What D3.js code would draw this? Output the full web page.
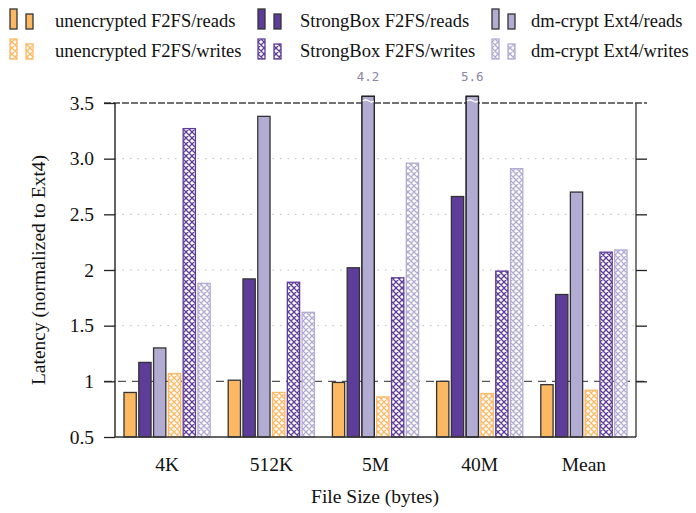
<!DOCTYPE html>
<html><head><meta charset="utf-8">
<script src="https://cdn.jsdelivr.net/npm/d3@7"></script>
<style>body{margin:0;background:#fff} svg{display:block}</style></head>
<body>
<script>
const categories=["4K","512K","5M","40M","Mean"];
const seriesNames=["unencrypted F2FS/reads","StrongBox F2FS/reads","dm-crypt Ext4/reads","unencrypted F2FS/writes","StrongBox F2FS/writes","dm-crypt Ext4/writes"];
const unencReads=[0.90,1.01,0.99,1.00,0.97];
const strongboxReads=[1.17,1.92,2.02,2.66,1.78];
const dmcryptReads=[1.30,3.38,4.2,5.6,2.70];
const unencWrites=[1.07,0.90,0.86,0.89,0.92];
const strongboxWrites=[3.27,1.89,1.93,1.99,2.16];
const dmcryptWrites=[1.88,1.62,2.96,2.91,2.18];
const yTickValues=[0.5,1,1.5,2,2.5,3,3.5];
const yTickLabels=["0.5","1","1.5","2","2.5","3.0","3.5"];
const palette=["#fdb863","#5e3c99","#b2abd2"];

const seriesValues=[unencReads,strongboxReads,dmcryptReads,unencWrites,strongboxWrites,dmcryptWrites];
const series=seriesNames.map((n,i)=>({name:n,values:seriesValues[i],color:palette[i%3],hatched:i>=3,key:"s"+i}));

const W=696,H=513;
const L=115,R=636,T=103,B=437;
const serif="'Liberation Serif','DejaVu Serif',serif";
const svg=d3.select("body").append("svg").attr("width",W).attr("height",H);
const defs=svg.append("defs");
palette.forEach((c,i)=>{
  const p=defs.append("pattern").attr("id","hatch"+i).attr("patternUnits","userSpaceOnUse")
    .attr("width",6).attr("height",6);
  p.append("rect").attr("width",6).attr("height",6).attr("fill","#fff");
  p.append("path").attr("d","M0,0L6,6M6,0L0,6M-1,5L1,7M5,-1L7,1").attr("stroke",c).attr("stroke-width",1.3).attr("fill","none");
});

const y=d3.scaleLinear().domain([0.5,3.5]).range([B,T]);
const x0=d3.scaleBand().domain(categories).range([L,R]).padding(0);
const x1=d3.scaleBand().domain(series.map(s=>s.key)).range([9,x0.bandwidth()-9]).paddingInner(0.17);
const yShownMax=3.56;

// gridlines
const g=svg.append("g");
g.selectAll("line.grid").data(yTickValues.filter(v=>v>1&&v<3.5)).join("line")
  .attr("x1",L).attr("x2",R).attr("y1",d=>y(d)).attr("y2",d=>y(d))
  .attr("stroke","#bbb").attr("stroke-width",1).attr("stroke-dasharray","1.5,6");
// ref line at 1
svg.append("line").attr("x1",104).attr("x2",647).attr("y1",y(1)).attr("y2",y(1))
  .attr("stroke","#555").attr("stroke-width",1.3).attr("stroke-dasharray","8,6");

// bars
const bars=svg.append("g");
series.forEach((s,si)=>{
  bars.selectAll("rect."+s.key).data(s.values.map((v,ci)=>({v,c:categories[ci]}))).join("rect")
    .attr("x",d=>x0(d.c)+x1(s.key)).attr("width",x1.bandwidth())
    .attr("y",d=>y(Math.min(d.v,yShownMax))).attr("height",d=>B-y(Math.min(d.v,yShownMax)))
    .attr("fill",s.hatched?`url(#hatch${si%3})`:s.color)
    .attr("stroke",s.hatched?s.color:"#333").attr("stroke-width",1.3);
});
// top dashed border line
svg.append("line").attr("x1",104).attr("x2",647).attr("y1",T).attr("y2",T)
  .attr("stroke","#444").attr("stroke-width",1.3).attr("stroke-dasharray","7,2");
// redraw clipped bars on top of border and add breaks and labels
series.forEach((s,si)=>{
  s.values.forEach((v,ci)=>{
    if(v>3.5){
      const bx=x0(categories[ci])+x1(s.key), bw=x1.bandwidth();
      svg.append("rect").attr("x",bx).attr("width",bw).attr("y",y(yShownMax)).attr("height",B-y(yShownMax))
        .attr("fill",s.color).attr("stroke","#222").attr("stroke-width",1.3);
      const yy=y(3.5)-2;
      svg.append("path").attr("d",`M${bx+0.7},${yy}q${bw/4},-2 ${bw/2},0t${bw/2-1.4},0`)
        .attr("stroke","#fff").attr("stroke-width",1.3).attr("fill","none");
      svg.append("text").attr("x",bx+bw/2).attr("y",y(yShownMax)-15).attr("text-anchor","middle")
        .attr("font-family","'DejaVu Sans Mono',monospace").attr("font-size",12.5).attr("fill","#8a85a6")
        .text(v.toFixed(1));
    }
  });
});

// axes frame
svg.append("line").attr("x1",L).attr("x2",L).attr("y1",T).attr("y2",B).attr("stroke","#111").attr("stroke-width",1.3);
svg.append("line").attr("x1",R).attr("x2",R).attr("y1",T).attr("y2",B).attr("stroke","#333").attr("stroke-width",1.3);
svg.append("line").attr("x1",L).attr("x2",R).attr("y1",B).attr("y2",B).attr("stroke","#333").attr("stroke-width",1.3);

const yAxis=d3.axisLeft(y).tickValues(yTickValues).tickSize(11).tickPadding(10)
  .tickFormat((d,i)=>yTickLabels[i]);
const ya=svg.append("g").attr("transform",`translate(${L},0)`).call(yAxis);
ya.select(".domain").remove();
ya.selectAll("line").attr("stroke","#222").attr("stroke-width",1.3);
ya.selectAll("text").attr("font-family",serif).attr("font-size",19.5).attr("fill","#111");
const yAxisR=d3.axisRight(y).tickValues(yTickValues.filter(v=>v>0.5&&v<3.5)).tickSize(11).tickFormat("");
const yr=svg.append("g").attr("transform",`translate(${R},0)`).call(yAxisR);
yr.select(".domain").remove();
yr.selectAll("line").attr("stroke","#222").attr("stroke-width",1.3);

const xAxis=d3.axisBottom(x0).tickSize(0).tickPadding(20);
const xa=svg.append("g").attr("transform",`translate(0,${B})`).call(xAxis);
xa.select(".domain").remove();
xa.selectAll("text").attr("font-family",serif).attr("font-size",19.5).attr("fill","#111");

svg.append("text").attr("x",375).attr("y",503).attr("text-anchor","middle")
  .attr("font-family",serif).attr("font-size",19.5).attr("fill","#111").text("File Size (bytes)");
svg.append("text").attr("transform","translate(45,270) rotate(-90)").attr("text-anchor","middle")
  .attr("font-family",serif).attr("font-size",19.5).attr("fill","#111").text("Latency (normalized to Ext4)");

// legend
const legCols=[{ix:10,tx:55},{ix:258,tx:300},{ix:492,tx:531}];
series.forEach((s,i)=>{
  const col=legCols[i%3], row=Math.floor(i/3);
  const top=9+row*30;
  const lg=svg.append("g");
  const fill=s.hatched?`url(#hatch${i%3})`:s.color, st=s.hatched?s.color:"#333";
  lg.append("rect").attr("x",col.ix).attr("y",top).attr("width",7).attr("height",20).attr("fill",fill).attr("stroke",st).attr("stroke-width",1.3);
  lg.append("rect").attr("x",col.ix+16).attr("y",top+5).attr("width",7).attr("height",15).attr("fill",fill).attr("stroke",st).attr("stroke-width",1.3);
  lg.append("text").attr("x",col.tx).attr("y",top+18).attr("font-family",serif).attr("font-size",18.5)
    .attr("fill","#111").text(s.name);
});
</script>
</body></html>
